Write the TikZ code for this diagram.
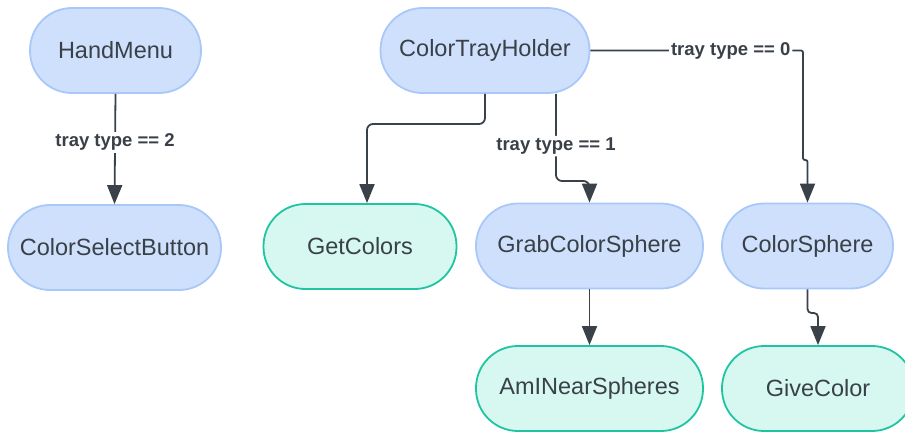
\documentclass[tikz,border=0pt]{standalone}
\usepackage{fontspec}
\setmainfont{Liberation Sans}
\usetikzlibrary{arrows.meta}

\definecolor{procfill}{HTML}{CFE0FC}
\definecolor{procline}{HTML}{A8C8FA}
\definecolor{leaffill}{HTML}{D6F8F1}
\definecolor{leafline}{HTML}{1FC4A1}
\definecolor{ink}{HTML}{3A4047}
\definecolor{wire}{HTML}{3A4148}

\tikzset{
  pill/.style={rectangle, rounded corners=42pt, line width=1.8pt,
    minimum height=85pt, text=ink, font=\fontsize{23.5}{27}\selectfont, inner sep=0pt},
  proc/.style={pill, fill=procfill, draw=procline},
  leaf/.style={pill, fill=leaffill, draw=leafline},
  conn/.style={draw=wire, line width=1.8pt, rounded corners=6pt,
    -{Triangle[width=15pt,length=19pt]}},
  cond/.style={fill=white, text=ink, inner sep=2pt,
    font=\bfseries\fontsize{18.5}{21}\selectfont}
}

\begin{document}
\begin{tikzpicture}[x=1pt,y=-1pt]
\useasboundingbox (0,0) rectangle (905,432);

% states
\node[proc, minimum width=171pt] (hm)   at (115.5,50.5) {HandMenu};
\node[proc, minimum width=213pt] (csb)  at (114.5,247.5) {ColorSelectButton};
\node[proc, minimum width=209pt] (cth)  at (485,50.5)   {ColorTrayHolder};
\node[leaf, minimum width=193pt] (gc)   at (360,246.5)  {GetColors};
\node[proc, minimum width=227pt] (gcs)  at (589.5,246)  {GrabColorSphere};
\node[proc, minimum width=171pt] (cs)   at (807.5,246)  {ColorSphere};
\node[leaf, minimum width=227pt] (ains) at (589.5,388.5) {AmINearSpheres};
\node[leaf, minimum width=192pt] (gvc)  at (818,388.5)  {GiveColor};

% transitions
\draw[conn] (hm.south) -- node[cond, pos=0.44] {tray type == 2} (csb.north);

\draw[conn] (cth.south) -- (485,124) -| ([xshift=7pt]gc.north);

\draw[conn] ([xshift=71pt]cth.south) -- node[cond, pos=0.6] {tray type == 1} (556,181) -| (gcs.north);

\draw[conn, rounded corners=2pt] (cth.east) -- node[cond, pos=0.66] {tray type == 0} (803,50.5) -- (803,160) -| (cs.north);

\draw[conn, rounded corners=4pt] (cs.south) -- (807.5,313) -| (gvc.north);

\draw[conn] (gcs.south) -- (ains.north);
\end{tikzpicture}
\end{document}
